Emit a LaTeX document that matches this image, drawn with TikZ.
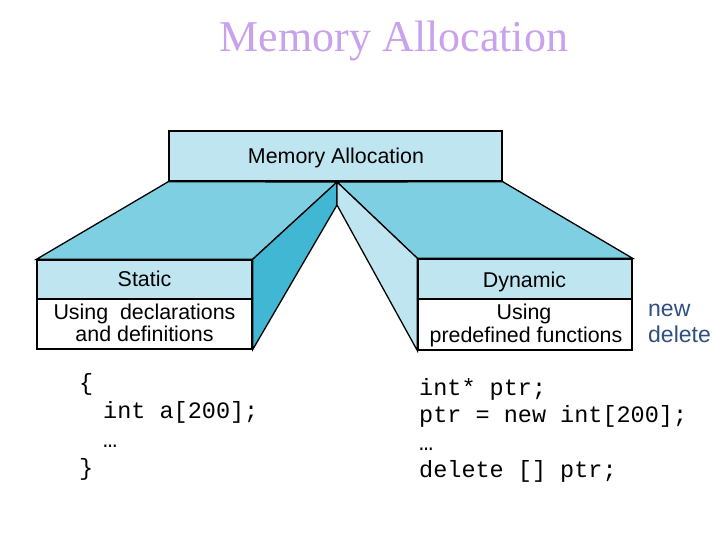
\documentclass[tikz,border=0pt]{standalone}
\usepackage{fontspec}
\setmainfont{Liberation Serif}
\setsansfont{Liberation Sans}
\setmonofont{Liberation Mono}
\definecolor{lightface}{HTML}{BFE6F0}
\definecolor{midface}{HTML}{7DCFE1}
\definecolor{darkface}{HTML}{41B7D3}
\definecolor{titlecol}{HTML}{C8A2EC}
\definecolor{notecol}{HTML}{2F4F7F}
\tikzset{
  edge/.style={draw=black, line width=1.3pt, line join=miter},
  boxlabel/.style={font=\sffamily\fontsize{21.4}{25}\selectfont, anchor=base, inner sep=0pt},
  code/.style={font=\ttfamily\fontsize{23.5}{28}\selectfont, anchor=base west, inner sep=0pt},
  note/.style={font=\sffamily\fontsize{23}{27}\selectfont, text=notecol, anchor=base west, inner sep=0pt},
  cell/.style={edge, rectangle, inner sep=0pt},
}
\begin{document}
\begin{tikzpicture}[x=1pt,y=-1pt]
\useasboundingbox (0,0) rectangle (720,540);
% title
\node[font=\rmfamily\fontsize{44}{50}\selectfont, text=titlecol, anchor=base, inner sep=0pt] (title) at (394,52) {Memory Allocation};

% key points
\coordinate (apex) at (337,182);
\coordinate (inner) at (337,205);

% boxes (geometry)
\node[cell, fill=lightface, minimum width=333pt, minimum height=50pt] (top) at (335.5,156) {};
\node[cell, fill=lightface, minimum width=215pt, minimum height=39pt] (shead) at (144.5,279.5) {};
\node[cell, fill=white, minimum width=215pt, minimum height=50pt] (sbody) at (144.5,324) {};
\node[cell, fill=lightface, minimum width=214pt, minimum height=40pt] (dhead) at (525,279) {};
\node[cell, fill=white, minimum width=214pt, minimum height=51pt] (dbody) at (525,324.5) {};

% faces
\filldraw[edge, fill=midface] (top.south west) -- (apex) -- (shead.north east) -- (shead.north west) -- cycle;
\filldraw[edge, fill=midface] (apex) -- (top.south east) -- (dhead.north east) -- (dhead.north west) -- cycle;
\filldraw[edge, fill=darkface] (shead.north east) -- (apex) -- (inner) -- (sbody.south east) -- cycle;
\filldraw[edge, fill=lightface] (apex) -- (dhead.north west) -- (dbody.south west) -- (inner) -- cycle;

% redraw boxes on top
\node[cell, fill=lightface, minimum width=333pt, minimum height=50pt] at (top) {};
\node[cell, fill=lightface, minimum width=215pt, minimum height=39pt] at (shead) {};
\node[cell, fill=white, minimum width=215pt, minimum height=50pt] at (sbody) {};
\node[cell, fill=lightface, minimum width=214pt, minimum height=40pt] at (dhead) {};
\node[cell, fill=white, minimum width=214pt, minimum height=51pt] at (dbody) {};

% labels
\node[boxlabel] (toplbl) at (336,164) {Memory Allocation};
\node[boxlabel] (slbl) at (144.5,286) {Static};
\node[boxlabel] (s1) at (144.5,319) {Using\ \ declarations};
\node[boxlabel] (s2) at (144.5,341) {and definitions};
\node[boxlabel] (dlbl) at (524.5,287) {Dynamic};
\node[boxlabel] (d1) at (524,319) {Using};
\node[boxlabel] (d2) at (526,342) {predefined functions};

\node[note] (nw) at (648,316) {new};
\node[note] (dl) at (648,342) {delete};

% code
\node[code] (c1) at (79,390) {\{};
\node[code] (c2) at (103,418) {int a[200];};
\node[code] (c3) at (103,447) {…};
\node[code] (c4) at (79,475) {\}};

\node[code] (r1) at (419,395) {int* ptr;};
\node[code] (r2) at (419,422) {ptr = new int[200];};
\node[code] (r3) at (419,450) {…};
\node[code] (r4) at (419,477) {delete [] ptr;};
\end{tikzpicture}
\end{document}
